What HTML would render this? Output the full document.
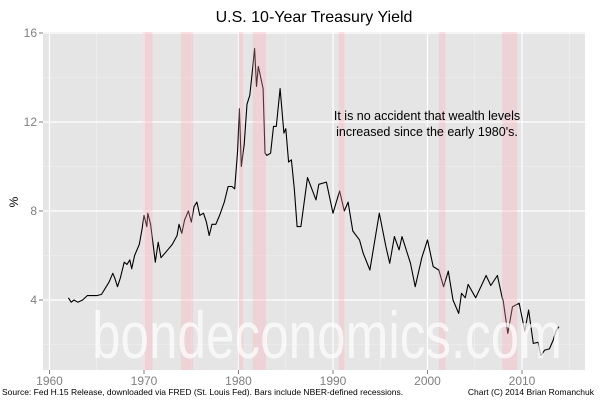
<!DOCTYPE html>
<html><head><meta charset="utf-8"><style>
html,body{margin:0;padding:0;background:#fff;}
svg{display:block;font-family:"Liberation Sans",sans-serif;}
</style></head><body>
<svg id="chart" width="600" height="400" viewBox="0 0 600 400">
<text x="314" y="22" text-anchor="middle" font-size="16" fill="#000">U.S. 10-Year Treasury Yield</text>
<text x="18" y="202" text-anchor="middle" font-size="12" fill="#000" transform="rotate(-90 18 202)">%</text>
<text x="2" y="395" font-size="8.5" fill="#000">Source: Fed H.15 Release, downloaded via FRED (St. Louis Fed). Bars include NBER-defined recessions.</text>
<text x="594" y="395" text-anchor="end" font-size="8.5" fill="#000">Chart (C) 2014 Brian Romanchuk</text>
</svg>
<script>
const years=[1962.0,1962.3,1962.6,1963.0,1963.5,1964.0,1964.5,1965.0,1965.5,1966.0,1966.3,1966.7,1966.9,1967.2,1967.5,1967.9,1968.2,1968.5,1968.7,1969.0,1969.5,1969.8,1970.0,1970.3,1970.4,1970.7,1971.0,1971.2,1971.5,1971.8,1972.2,1972.6,1973.0,1973.5,1973.7,1974.0,1974.3,1974.7,1975.0,1975.3,1975.6,1975.9,1976.3,1976.6,1976.9,1977.2,1977.6,1978.0,1978.5,1978.9,1979.3,1979.6,1979.9,1980.1,1980.3,1980.6,1980.9,1981.2,1981.4,1981.7,1981.9,1982.1,1982.4,1982.6,1982.8,1983.0,1983.4,1983.7,1984.0,1984.4,1984.8,1985.0,1985.3,1985.6,1985.9,1986.2,1986.6,1987.3,1988.2,1988.5,1989.3,1990.0,1990.7,1991.2,1991.6,1992.1,1992.8,1993.2,1993.9,1994.9,1995.6,1996.0,1996.5,1997.0,1997.3,1998.2,1998.7,1999.4,2000.0,2000.6,2001.2,2001.7,2002.2,2002.7,2003.3,2003.6,2004.0,2004.3,2005.1,2006.2,2006.7,2007.4,2007.9,2008.0,2008.5,2009.0,2009.7,2010.3,2010.7,2011.2,2011.7,2012.0,2012.4,2012.9,2013.3,2013.6,2013.9];
const yields=[4.1,3.9,4.0,3.9,4.0,4.2,4.2,4.2,4.25,4.6,4.8,5.2,5.0,4.6,5.0,5.7,5.6,5.8,5.4,6.0,6.5,7.2,7.8,7.3,7.9,7.4,6.4,5.7,6.6,5.9,6.1,6.3,6.5,6.9,7.4,7.0,7.6,8.0,7.5,8.2,8.4,7.8,7.9,7.5,6.9,7.4,7.4,7.8,8.4,9.1,9.1,9.0,10.7,12.6,10.0,11.0,12.8,13.2,14.0,15.3,13.6,14.5,13.9,13.5,10.6,10.5,10.6,11.8,11.8,13.5,11.5,11.7,10.2,10.3,9.0,7.3,7.3,9.5,8.5,9.2,9.3,7.9,8.9,8.0,8.4,7.1,6.7,6.1,5.35,7.9,6.4,5.65,6.85,6.25,6.85,5.65,4.6,5.9,6.7,5.5,5.35,4.6,5.3,4.0,3.4,4.3,4.1,4.7,4.1,5.1,4.65,5.1,4.1,4.0,2.5,3.7,3.85,2.6,3.55,2.05,2.1,1.5,1.75,1.8,2.2,2.6,2.8];
const recStart=[1969.9,1973.9,1980.0,1981.5,1990.6,2001.2,2007.9];
const recEnd=[1970.9,1975.2,1980.5,1982.9,1991.2,2001.9,2009.5];
const yTicks=[4,8,12,16];
const yMinor=[2,6,10,14];
const xTicks=[1960,1970,1980,1990,2000,2010];
const xMinor=[1965,1975,1985,1995,2005,2015];

const L=43,R=585,T=32,B=370;
const X=yr=>49.5+(yr-1960)*9.45;
const Y=v=>300-(v-4)*22.25;
const NS='http://www.w3.org/2000/svg';
const svg=document.getElementById('chart');
function mk(tag,attrs,parent){const e=document.createElementNS(NS,tag);for(const k in attrs)e.setAttribute(k,attrs[k]);(parent||svg).appendChild(e);return e;}

const panel=mk('rect',{x:L,y:T,width:R-L,height:B-T,fill:'#e5e5e5'});



yMinor.forEach(v=>{const l=mk('line',{x1:L,x2:R,y1:Y(v),y2:Y(v),stroke:'#f2f2f2','stroke-width':0.6});

});
xMinor.forEach(v=>{const l=mk('line',{x1:X(v),x2:X(v),y1:T,y2:B,stroke:'#f2f2f2','stroke-width':0.6});

});
yTicks.forEach(v=>{const l=mk('line',{x1:L,x2:R,y1:Y(v),y2:Y(v),stroke:'#fff','stroke-width':1.2});


const t=mk('line',{x1:L-4,x2:L,y1:Y(v),y2:Y(v),stroke:'#7f7f7f','stroke-width':1});


const tx=mk('text',{x:L-6,y:Y(v)+4,'text-anchor':'end','font-size':12,fill:'#7f7f7f'});tx.textContent=v;

});
xTicks.forEach(v=>{const l=mk('line',{x1:X(v),x2:X(v),y1:T,y2:B,stroke:'#fff','stroke-width':1.2});


const t=mk('line',{x1:X(v),x2:X(v),y1:B,y2:B+4,stroke:'#7f7f7f','stroke-width':1});


const tx=mk('text',{x:X(v),y:B+15,'text-anchor':'middle','font-size':12,fill:'#7f7f7f'});tx.textContent=v;

});

const line=mk('polyline',{points:years.map((y,i)=>X(y).toFixed(1)+','+Y(yields[i]).toFixed(1)).join(' '),fill:'none',stroke:'#000','stroke-width':1.1,'stroke-linejoin':'round'});



recStart.forEach((s,i)=>{const r=mk('rect',{x:X(s),y:T,width:X(recEnd[i])-X(s),height:B-T,fill:'rgba(255,165,178,0.3)'});

});

const a1=mk('text',{x:427,y:120,'text-anchor':'middle','font-size':12.5,fill:'#000'});a1.textContent='It is no accident that wealth levels';


const a2=mk('text',{x:427,y:136,'text-anchor':'middle','font-size':12.5,fill:'#000'});a2.textContent="increased since the early 1980's.";



const wm=mk('text',{x:327,y:358,'text-anchor':'middle','font-size':66,fill:'rgba(255,255,255,0.7)',textLength:470,lengthAdjust:'spacingAndGlyphs'});wm.textContent='bondeconomics.com';


</script>
</body></html>
